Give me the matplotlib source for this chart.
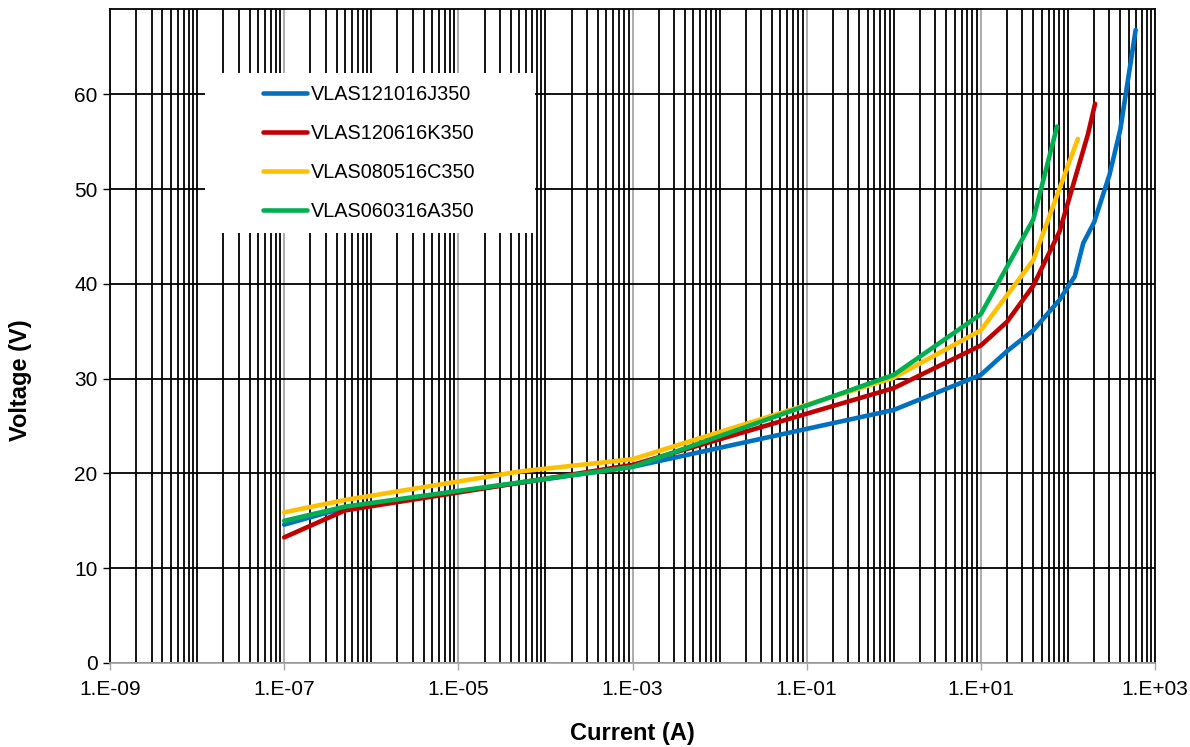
import numpy as np
import matplotlib
matplotlib.use("Agg")
import matplotlib.pyplot as plt
from matplotlib.ticker import FixedLocator, FuncFormatter, NullFormatter
from matplotlib.patches import Rectangle

plt.rcParams['font.family'] = ['Liberation Sans', 'DejaVu Sans']

# ---- data ----
labels = ["VLAS121016J350", "VLAS120616K350", "VLAS080516C350", "VLAS060316A350"]
colors = ["#0070C0", "#C00000", "#FFC000", "#00B050"]

i_blue = [1e-7, 5e-7, 1e-3, 1.0, 10, 20, 40, 80, 120, 150, 200, 300, 400, 600]
v_blue = [14.6, 16.4, 20.7, 26.7, 30.4, 32.9, 35.1, 38.3, 40.8, 44.3, 46.5, 51.5, 56.3, 66.8]

i_red = [1e-7, 5e-7, 1e-3, 1.0, 10, 20, 40, 80, 170, 205]
v_red = [13.25, 16.1, 20.9, 29.0, 33.5, 36.0, 39.8, 45.5, 55.8, 59.0]

i_yellow = [1e-7, 5e-7, 5e-5, 1e-3, 1.0, 10, 40, 130]
v_yellow = [15.9, 17.2, 20.2, 21.5, 30.1, 35.1, 42.5, 55.3]

i_green = [1e-7, 5e-7, 1e-3, 1.0, 10, 40, 75]
v_green = [15.0, 16.5, 20.7, 30.4, 36.8, 46.8, 56.6]

currents = [i_blue, i_red, i_yellow, i_green]
voltages = [v_blue, v_red, v_yellow, v_green]

x_major = [1e-9, 1e-7, 1e-5, 1e-3, 1e-1, 1e1, 1e3]
y_ticks = [0, 10, 20, 30, 40, 50, 60]

# ---- figure ----
fig = plt.figure(figsize=(11.90, 7.47), dpi=100)
ax = fig.add_axes([110/1190, 1-663/747, 1045/1190, 654/747])

ax.set_xscale('log')
ax.set_xlim(1e-9, 1e3)
ax.set_ylim(0, 69)

# minor gridlines (black): every k*10^n not on a major position
minor = []
for e in range(-9, 3):
    for k in range(1, 10):
        v = k * 10.0**e
        if not any(abs(v - m) / m < 1e-9 for m in x_major):
            minor.append(v)
ax.xaxis.set_major_locator(FixedLocator(x_major))
ax.xaxis.set_minor_locator(FixedLocator(minor))
ax.xaxis.set_minor_formatter(NullFormatter())
ax.xaxis.set_major_formatter(FuncFormatter(lambda v, p: "1.E{:+03d}".format(int(round(np.log10(v))))))
ax.yaxis.set_major_locator(FixedLocator(y_ticks))

ax.grid(which='minor', axis='x', color='black', linewidth=1.3, zorder=1)
ax.grid(which='major', axis='x', color='#A6A6A6', linewidth=1.3, zorder=1)
ax.grid(which='major', axis='y', color='black', linewidth=1.3, zorder=1)
ax.set_axisbelow(True)

ax.tick_params(axis='x', which='major', length=5, color='#A6A6A6', width=1, labelsize=15, pad=7)
ax.tick_params(axis='x', which='minor', length=0)
ax.tick_params(axis='y', which='major', length=5, color='black', width=1, labelsize=15, pad=4)

for s in ['top', 'right', 'left']:
    ax.spines[s].set_color('black')
    ax.spines[s].set_linewidth(1.3)
ax.spines['bottom'].set_color('#A6A6A6')
ax.spines['bottom'].set_linewidth(1.3)

# white legend area covering the grid
rx0 = (205-110)/1045
ry0 = (663-233)/654
ax.add_patch(Rectangle((rx0, ry0), (535-205)/1045, (233-73)/654,
                       transform=ax.transAxes, facecolor='white', edgecolor='none', zorder=1.8))

handles = []
for I, V, c, lab in zip(currents, voltages, colors, labels):
    h, = ax.plot(I, V, color=c, linewidth=3.3, label=lab, solid_capstyle='round',
                 solid_joinstyle='round', zorder=3)
    handles.append(h)

leg = ax.legend(handles=handles, loc='upper left', bbox_to_anchor=((263-110)/1045, (663-85)/654),
                frameon=False, fontsize=14.3, handlelength=2.2, handletextpad=0.2,
                labelspacing=1.0, borderpad=0, borderaxespad=0)
leg.set_zorder(5)

ax.set_xlabel("Current (A)", fontsize=17, fontweight='bold')
ax.set_ylabel("Voltage (V)", fontsize=17, fontweight='bold')
ax.xaxis.set_label_coords(0.5, -0.0905)
ax.yaxis.set_label_coords(-0.0745, 0.433)

fig.savefig("out.png", dpi=100)
